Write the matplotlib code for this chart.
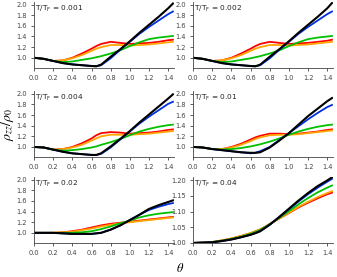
import matplotlib
matplotlib.use("Agg")
import matplotlib.pyplot as plt

# theta grid shared by all panels
theta = [0.0, 0.1, 0.2, 0.3, 0.4, 0.5, 0.6, 0.65, 0.7, 0.8, 0.9, 1.0, 1.1, 1.2, 1.3, 1.4, 1.45]

temps = ["0.001", "0.002", "0.004", "0.01", "0.02", "0.04"]
colors = ["#ff0000", "#ffa500", "#00c000", "#0030e0", "#000000"]

# curves per panel: red, orange, green, blue, black
p1 = [
    [1.0, 0.98, 0.94, 0.95, 1.00, 1.08, 1.17, 1.22, 1.26, 1.30, 1.28, 1.26, 1.27, 1.28, 1.30, 1.33, 1.34],
    [1.0, 0.98, 0.94, 0.95, 0.99, 1.05, 1.13, 1.17, 1.20, 1.24, 1.24, 1.23, 1.24, 1.25, 1.27, 1.29, 1.30],
    [1.0, 0.98, 0.94, 0.92, 0.93, 0.96, 0.99, 1.01, 1.03, 1.08, 1.14, 1.22, 1.29, 1.35, 1.38, 1.40, 1.41],
    [1.0, 0.98, 0.94, 0.90, 0.875, 0.86, 0.845, 0.84, 0.86, 0.99, 1.15, 1.30, 1.45, 1.58, 1.70, 1.82, 1.87],
    [1.0, 0.98, 0.94, 0.90, 0.875, 0.86, 0.845, 0.84, 0.87, 1.02, 1.16, 1.31, 1.47, 1.62, 1.77, 1.93, 2.02],
]
p2 = [
    [1.0, 0.98, 0.94, 0.95, 1.00, 1.08, 1.17, 1.22, 1.26, 1.30, 1.28, 1.26, 1.27, 1.28, 1.30, 1.32, 1.34],
    [1.0, 0.98, 0.94, 0.95, 0.99, 1.05, 1.13, 1.17, 1.20, 1.24, 1.24, 1.23, 1.24, 1.25, 1.27, 1.29, 1.30],
    [1.0, 0.98, 0.94, 0.92, 0.93, 0.96, 0.99, 1.01, 1.03, 1.08, 1.14, 1.22, 1.29, 1.35, 1.38, 1.40, 1.41],
    [1.0, 0.98, 0.94, 0.90, 0.875, 0.86, 0.845, 0.84, 0.86, 0.99, 1.15, 1.30, 1.45, 1.58, 1.70, 1.82, 1.87],
    [1.0, 0.98, 0.94, 0.90, 0.875, 0.86, 0.845, 0.84, 0.87, 1.02, 1.16, 1.31, 1.47, 1.62, 1.77, 1.93, 2.03],
]
p3 = [
    [1.0, 0.99, 0.95, 0.96, 1.00, 1.07, 1.16, 1.22, 1.26, 1.28, 1.27, 1.25, 1.26, 1.27, 1.29, 1.32, 1.33],
    [1.0, 0.99, 0.95, 0.96, 0.99, 1.04, 1.12, 1.16, 1.20, 1.23, 1.23, 1.23, 1.24, 1.25, 1.27, 1.29, 1.30],
    [1.0, 0.99, 0.95, 0.93, 0.94, 0.96, 0.99, 1.01, 1.04, 1.09, 1.15, 1.22, 1.29, 1.34, 1.38, 1.41, 1.42],
    [1.0, 0.99, 0.95, 0.91, 0.88, 0.865, 0.85, 0.85, 0.87, 0.99, 1.14, 1.29, 1.44, 1.57, 1.69, 1.81, 1.85],
    [1.0, 0.99, 0.95, 0.91, 0.88, 0.865, 0.85, 0.85, 0.88, 1.01, 1.15, 1.30, 1.46, 1.61, 1.76, 1.91, 1.99],
]
p4 = [
    [1.0, 0.99, 0.96, 0.96, 1.00, 1.06, 1.14, 1.18, 1.21, 1.25, 1.25, 1.24, 1.25, 1.27, 1.29, 1.32, 1.33],
    [1.0, 0.99, 0.96, 0.96, 0.99, 1.04, 1.11, 1.15, 1.18, 1.22, 1.23, 1.23, 1.24, 1.26, 1.28, 1.30, 1.31],
    [1.0, 0.99, 0.96, 0.95, 0.96, 0.98, 1.01, 1.03, 1.05, 1.10, 1.16, 1.23, 1.29, 1.34, 1.38, 1.41, 1.42],
    [1.0, 0.99, 0.96, 0.94, 0.92, 0.90, 0.88, 0.89, 0.92, 1.00, 1.13, 1.26, 1.39, 1.52, 1.64, 1.75, 1.79],
    [1.0, 0.99, 0.96, 0.94, 0.92, 0.90, 0.89, 0.89, 0.90, 0.99, 1.12, 1.26, 1.42, 1.58, 1.72, 1.86, 1.92],
]
p5 = [
    [1.0, 1.0, 1.0, 1.01, 1.03, 1.06, 1.10, 1.12, 1.14, 1.17, 1.19, 1.21, 1.23, 1.25, 1.27, 1.29, 1.30],
    [1.0, 1.0, 1.0, 1.01, 1.02, 1.05, 1.08, 1.10, 1.12, 1.15, 1.18, 1.20, 1.22, 1.24, 1.26, 1.28, 1.29],
    [1.0, 1.0, 1.0, 1.00, 1.00, 1.01, 1.03, 1.05, 1.07, 1.12, 1.18, 1.23, 1.29, 1.33, 1.36, 1.38, 1.39],
    [1.0, 1.0, 1.0, 0.99, 0.98, 0.98, 0.98, 0.99, 1.00, 1.06, 1.14, 1.24, 1.34, 1.43, 1.49, 1.54, 1.56],
    [1.0, 1.0, 1.0, 0.99, 0.98, 0.98, 0.98, 0.99, 1.00, 1.06, 1.14, 1.24, 1.34, 1.45, 1.52, 1.58, 1.61],
]
p6 = [
    [1.0, 1.001, 1.003, 1.008, 1.014, 1.022, 1.031, 1.037, 1.043, 1.060, 1.078, 1.095, 1.113, 1.128, 1.142, 1.155, 1.160],
    [1.0, 1.001, 1.003, 1.008, 1.014, 1.022, 1.031, 1.037, 1.043, 1.060, 1.078, 1.096, 1.115, 1.131, 1.146, 1.159, 1.165],
    [1.0, 1.001, 1.003, 1.007, 1.013, 1.020, 1.029, 1.035, 1.041, 1.060, 1.080, 1.101, 1.123, 1.143, 1.161, 1.176, 1.183],
    [1.0, 1.001, 1.002, 1.006, 1.011, 1.018, 1.026, 1.032, 1.038, 1.058, 1.082, 1.107, 1.132, 1.155, 1.176, 1.195, 1.204],
    [1.0, 1.001, 1.002, 1.006, 1.011, 1.018, 1.026, 1.031, 1.037, 1.058, 1.083, 1.109, 1.135, 1.159, 1.181, 1.199, 1.209],
]
panels = [p1, p2, p3, p4, p5, p6]

plt.rcParams["font.family"] = ["DejaVu Sans"]
fig = plt.figure(figsize=(3.37, 2.77), dpi=100)

lefts = [0.101, 0.573]
bottoms = [0.755, 0.433, 0.123]
w, h = 0.415, 0.238

for i, curves in enumerate(panels):
    ax = fig.add_axes([lefts[i % 2], bottoms[i // 2], w, h])
    for c, y in zip(colors, curves):
        ax.plot(theta, y, color=c, lw=1.3 if c != "#000000" else 1.5)
    ax.set_xlim(0, 1.46)
    ax.set_xticks([0.0, 0.2, 0.4, 0.6, 0.8, 1.0, 1.2, 1.4])
    if i == 5:
        ax.set_ylim(1.0, 1.21)
        ax.set_yticks([1.00, 1.05, 1.10, 1.15, 1.20])
        ax.yaxis.set_major_formatter(matplotlib.ticker.FormatStrFormatter("%.2f"))
    else:
        ax.set_ylim(0.81, 2.05)
        ax.set_yticks([1.0, 1.2, 1.4, 1.6, 1.8, 2.0])
        ax.yaxis.set_major_formatter(matplotlib.ticker.FormatStrFormatter("%.1f"))
    ax.xaxis.set_major_formatter(matplotlib.ticker.FormatStrFormatter("%.1f"))
    for s in ["top", "right"]:
        ax.spines[s].set_visible(False)
    for s in ["left", "bottom"]:
        ax.spines[s].set_linewidth(0.6)
        ax.spines[s].set_color("#444444")
    ax.tick_params(direction="out", length=2, width=0.6, labelsize=4.8,
                   colors="#444444", pad=3)
    ax.text(0.01, 0.97, "T/T$_\\mathrm{F}$ = " + temps[i], transform=ax.transAxes,
            fontsize=5.3, va="top", ha="left", color="#222222")

fig.text(0.022, 0.55, r"$\rho_{zz}/\rho_0$", rotation=90, fontsize=10,
         va="center", ha="center", math_fontfamily="stix")
fig.text(0.535, 0.03, r"$\theta$", fontsize=9, va="center", ha="center",
         math_fontfamily="stix")

fig.savefig("out.png", dpi=100)
